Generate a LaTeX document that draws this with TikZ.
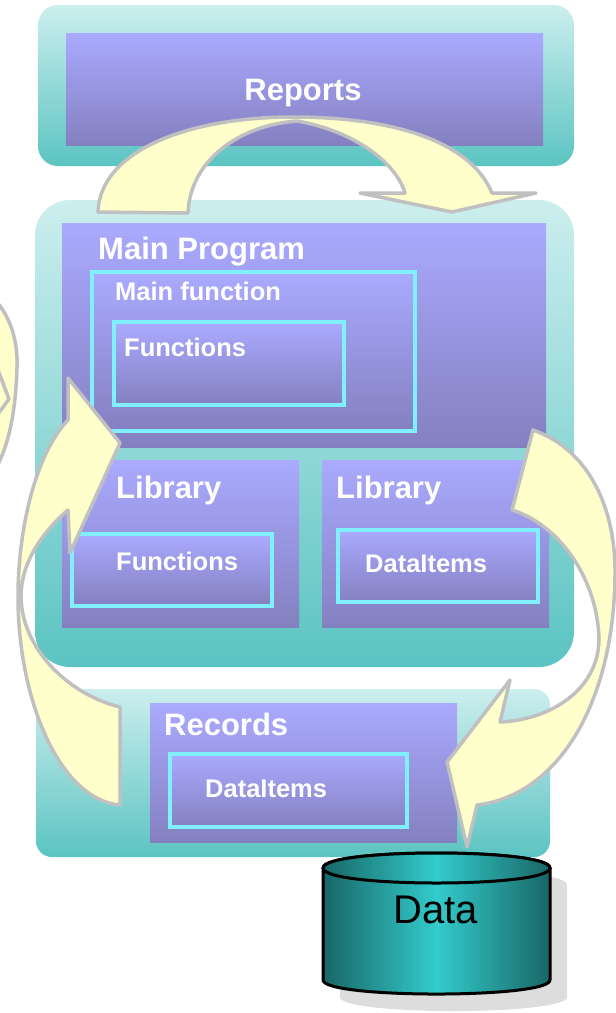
\documentclass[tikz,border=0pt]{standalone}
\usepackage{fontspec}
\setmainfont{Liberation Sans}
\definecolor{tealtop}{HTML}{CCEEEE}
\definecolor{tealbot}{HTML}{5BC4C2}
\definecolor{purtop}{HTML}{AAAAFF}
\definecolor{purbot}{HTML}{8480C0}
\definecolor{cyanb}{HTML}{80F0FF}
\definecolor{arrowfill}{HTML}{FFFFCC}
\definecolor{arrowline}{HTML}{C0C0C0}
\definecolor{cyldark}{HTML}{186666}
\definecolor{cylbright}{HTML}{33CCCC}
\definecolor{shadowgray}{HTML}{DDDDDD}
\tikzset{
  container/.style={top color=tealtop, bottom color=tealbot, draw=none},
  panel/.style={top color=purtop, bottom color=purbot, draw=none},
  framebox/.style={top color=purtop, bottom color=purbot, draw=cyanb, line width=3.5},
  arrowshape/.style={fill=arrowfill, draw=arrowline, line width=3.5, line join=round},
  bigtext/.style={text=white, font=\bfseries\fontsize{31}{31}\selectfont, inner sep=0, anchor=base west},
  smalltext/.style={text=white, font=\bfseries\fontsize{25.5}{26}\selectfont, inner sep=0, anchor=base west},
  cylshade/.style={left color=cyldark, right color=cyldark, middle color=cylbright}
}
\begin{document}
\begin{tikzpicture}[x=1pt,y=-1pt]
\useasboundingbox (0,0) rectangle (616,1013);
\begin{scope}
\clip (0,0) rectangle (616,1013);
% containers
\path[container, rounded corners=20] (38,5) rectangle (574,166);
\path[panel] (66,33) rectangle (543,145);
\path[container, rounded corners=35] (35,200) rectangle (574,667);
\path[panel] (62,223) rectangle (546,447);
\path[framebox] (92,272) rectangle (415,431);
\path[framebox] (114,322) rectangle (344,405);
\path[panel] (62,460) rectangle (299,627);
\path[panel] (322,460) rectangle (549,627);
\path[framebox] (72,534) rectangle (272,606);
\path[framebox] (338,530) rectangle (538,602);
\path[container, rounded corners=16] (36,689) rectangle (550,857);
\path[panel] (150,703) rectangle (457,842);
\path[framebox] (170,754) rectangle (407,827);
% texts
\node[bigtext, anchor=base] (reports) at (303,100) {Reports};
\node[bigtext] (mainprog) at (98,259) {Main Program};
\node[smalltext] (mainfn) at (115,300) {Main function};
\node[smalltext] (fn1) at (124,356) {Functions};
\node[bigtext] (lib1) at (116,498) {Library};
\node[bigtext] (lib2) at (336,498) {Library};
\node[smalltext] (fn2) at (116,570) {Functions};
\node[smalltext] (di1) at (365,572) {DataItems};
\node[bigtext] (records) at (164,735) {Records};
\node[smalltext] (di2) at (205,797) {DataItems};
% cylinder
\fill[shadowgray, shift={(17,17)}] (323,868) -- (323,980) .. controls (323,998.7) and (550,998.7) .. (550,980) -- (550,868) .. controls (550,848) and (323,848) .. (323,868) -- cycle;
\path[cylshade, draw=black, line width=3] (323,868) -- (323,980) .. controls (323,998.7) and (550,998.7) .. (550,980) -- (550,868) .. controls (550,848) and (323,848) .. (323,868) -- cycle;
\path[cylshade, draw=black, line width=3] (323,868) .. controls (323,848) and (550,848) .. (550,868) .. controls (550,888) and (323,888) .. (323,868) -- cycle;
\node[inner sep=0, anchor=base, font=\fontsize{40}{40}\selectfont] (data) at (436,923) {Data};
% arrows
\path[arrowshape] (98,212) -- (188,213) .. controls (190,160) and (240,125) .. (297,121) .. controls (350,130) and (395,160) .. (405,193) -- (360,193) -- (452,212) -- (536,193) -- (492,193) .. controls (470,140) and (390,117) .. (293,117) .. controls (190,117) and (100,150) .. (98,212) -- cycle;
\path[arrowshape] (68,420) .. controls (35,455) and (18,530) .. (18,597) .. controls (18,700) and (60,800) .. (120,805) -- (120,707) .. controls (70,695) and (22,650) .. (21,597) .. controls (21,560) and (45,530) .. (68,510) -- (70,553) -- (120,443) -- (68,378) -- cycle;
\path[arrowshape] (533,430) .. controls (590,450) and (616,510) .. (615,575) .. controls (614,700) and (560,795) .. (477,805) -- (467,847) -- (447,762) -- (510,680) -- (500,722) .. controls (550,720) and (598,690) .. (599,640) .. controls (598,580) and (560,525) .. (512,510) -- cycle;
\path[arrowshape] (-5,300) .. controls (12,318) and (18,345) .. (17,367) .. controls (16,400) and (12,440) .. (-5,470) -- cycle;
\draw[arrowline, line width=3.5, line join=round] (-2,370) -- (9,399) -- (-2,414);
\end{scope}
\end{tikzpicture}
\end{document}
